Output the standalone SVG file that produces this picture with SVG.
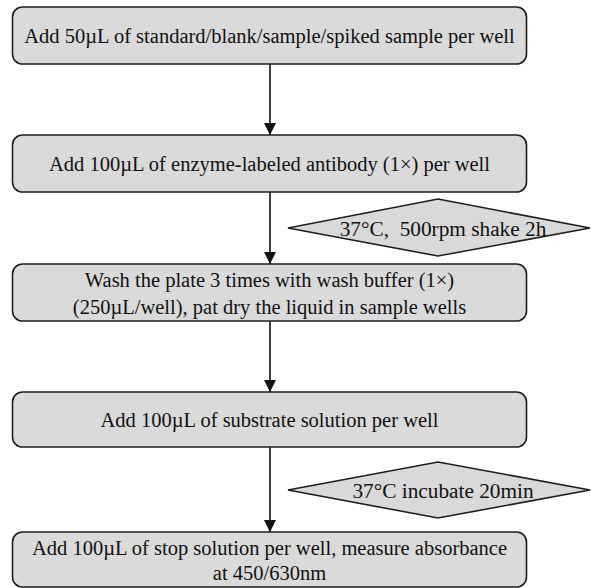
<svg xmlns="http://www.w3.org/2000/svg" width="591" height="588" viewBox="0 0 591 588">
<style>
.box{fill:#dadada;stroke:#1e1e1e;stroke-width:1.6}
.dia{fill:#d9d9d9;stroke:#1e1e1e;stroke-width:1.6}
text{font-family:"Liberation Serif","Times New Roman",serif;font-size:20.5px;fill:#111;text-anchor:middle;white-space:pre}
.dt{font-size:21.3px}
.conn line{stroke:#111;stroke-width:1.6}
</style>
<defs>
<marker id="arr" viewBox="0 0 12 12" refX="12" refY="6" markerWidth="12" markerHeight="12" markerUnits="userSpaceOnUse" orient="auto">
<path d="M0,0 L12,6 L0,12 Z" fill="#111"/>
</marker>
</defs>
<rect width="591" height="588" fill="#fff"/>
<g class="conn">
<line x1="270" y1="64" x2="270" y2="135" marker-end="url(#arr)"/>
<line x1="270" y1="192" x2="270" y2="264" marker-end="url(#arr)"/>
<line x1="270" y1="321" x2="270" y2="392" marker-end="url(#arr)"/>
<line x1="270" y1="447" x2="270" y2="532" marker-end="url(#arr)"/>
</g>
<g id="step1">
<rect class="box" x="12.5" y="7" width="514" height="57" rx="10"/>
<text x="269.5" y="42.5">Add 50µL of standard/blank/sample/spiked sample per well</text>
</g>
<g id="step2">
<rect class="box" x="12.5" y="135" width="514" height="57" rx="10"/>
<text x="269.5" y="170.5">Add 100µL of enzyme-labeled antibody (1×) per well</text>
</g>
<g id="cond1">
<polygon class="dia" points="288,228 438,199 590,228 438,256"/>
<text class="dt" x="443" y="236">37°C,  500rpm shake 2h</text>
</g>
<g id="step3">
<rect class="box" x="12.5" y="264" width="514" height="57" rx="10"/>
<text x="269.5" y="287">Wash the plate 3 times with wash buffer (1×)</text>
<text x="269.5" y="314">(250µL/well), pat dry the liquid in sample wells</text>
</g>
<g id="step4">
<rect class="box" x="12.5" y="392" width="514" height="55" rx="10"/>
<text x="269.5" y="426.5">Add 100µL of substrate solution per well</text>
</g>
<g id="cond2">
<polygon class="dia" points="288,490 438,462 590,490 438,518"/>
<text class="dt" x="443" y="497.5">37°C incubate 20min</text>
</g>
<g id="step5">
<rect class="box" x="12.5" y="532" width="514" height="55" rx="10"/>
<text x="269.5" y="555">Add 100µL of stop solution per well, measure absorbance</text>
<text x="269.5" y="580">at 450/630nm</text>
</g>
</svg>
